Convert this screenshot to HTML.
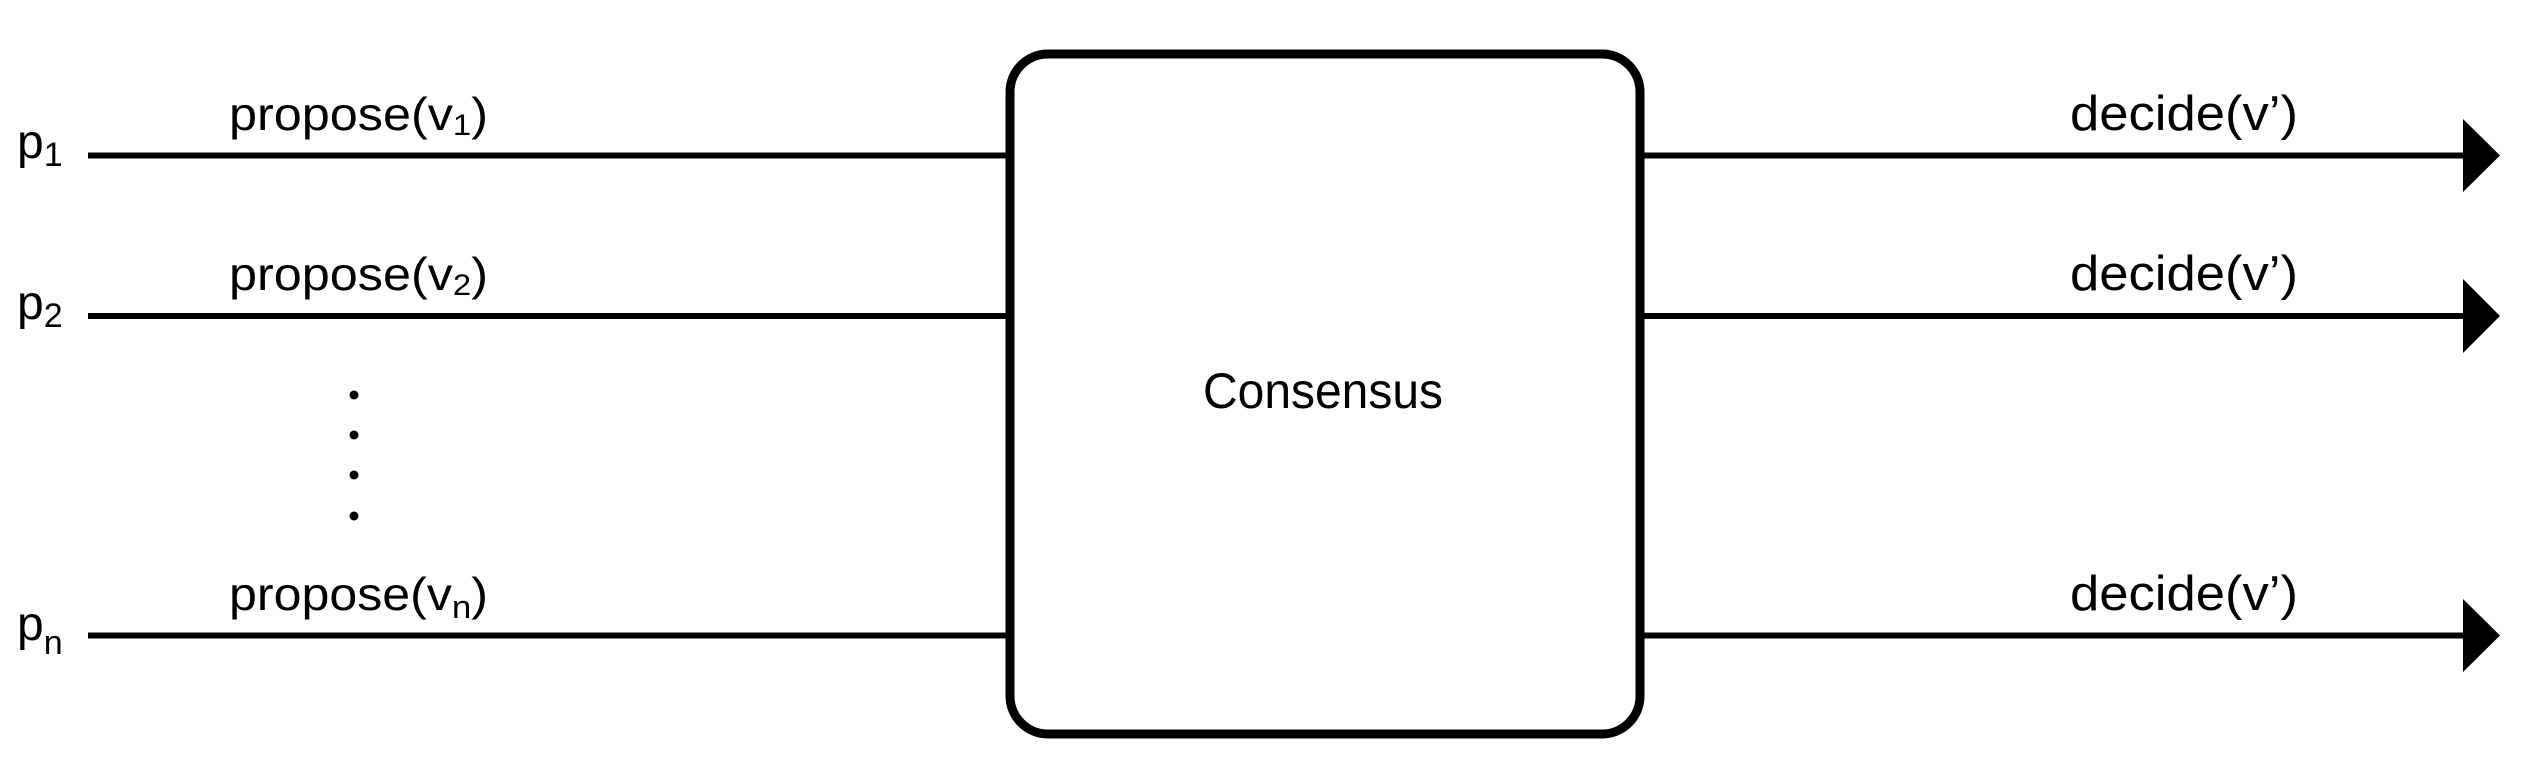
<!DOCTYPE html>
<html><head><meta charset="utf-8"><style>
html,body{margin:0;padding:0;background:#fff;}
svg{display:block;}
text{font-family:"Liberation Sans",sans-serif;fill:#000;}
</style></head><body>
<svg width="2522" height="764" viewBox="0 0 2522 764" xmlns="http://www.w3.org/2000/svg">
<rect x="1010" y="54" width="630" height="680" rx="38" ry="38" fill="none" stroke="#000" stroke-width="9"/>
<g stroke="#000" stroke-width="6">
<line x1="88" y1="155.5" x2="1008" y2="155.5"/>
<line x1="88" y1="316" x2="1008" y2="316"/>
<line x1="88" y1="635.5" x2="1008" y2="635.5"/>
<line x1="1642" y1="155.5" x2="2470" y2="155.5"/>
<line x1="1642" y1="316" x2="2470" y2="316"/>
<line x1="1642" y1="635.5" x2="2470" y2="635.5"/>
</g>
<polygon points="2463,119 2500,155.5 2463,192" fill="#000"/>
<polygon points="2463,279 2500,316 2463,353" fill="#000"/>
<polygon points="2463,599 2500,635.5 2463,672" fill="#000"/>
<g fill="#000">
<circle cx="354" cy="395" r="4.5"/>
<circle cx="354" cy="435" r="4.5"/>
<circle cx="354" cy="475" r="4.5"/>
<circle cx="354" cy="516" r="4.5"/>
</g>
<text x="17" y="158" font-size="48">p<tspan font-size="34" dy="8">1</tspan></text>
<text x="17" y="319" font-size="48">p<tspan font-size="34" dy="8">2</tspan></text>
<text x="17" y="640" font-size="48">p<tspan font-size="34" dy="14">n</tspan></text>
<text x="229" y="130" font-size="46" textLength="259" lengthAdjust="spacingAndGlyphs">propose(v<tspan font-size="30" dy="5">1</tspan><tspan dy="-5">)</tspan></text>
<text x="229" y="290" font-size="46" textLength="259" lengthAdjust="spacingAndGlyphs">propose(v<tspan font-size="30" dy="5">2</tspan><tspan dy="-5">)</tspan></text>
<text x="229" y="610" font-size="46" textLength="259" lengthAdjust="spacingAndGlyphs">propose(v<tspan font-size="32" dy="8">n</tspan><tspan dy="-8">)</tspan></text>
<text x="2070" y="130" font-size="49" textLength="228" lengthAdjust="spacingAndGlyphs">decide(v’)</text>
<text x="2070" y="290" font-size="49" textLength="228" lengthAdjust="spacingAndGlyphs">decide(v’)</text>
<text x="2070" y="610" font-size="49" textLength="228" lengthAdjust="spacingAndGlyphs">decide(v’)</text>
<text x="1203" y="408" font-size="50" textLength="240" lengthAdjust="spacingAndGlyphs">Consensus</text>
</svg>
</body></html>
